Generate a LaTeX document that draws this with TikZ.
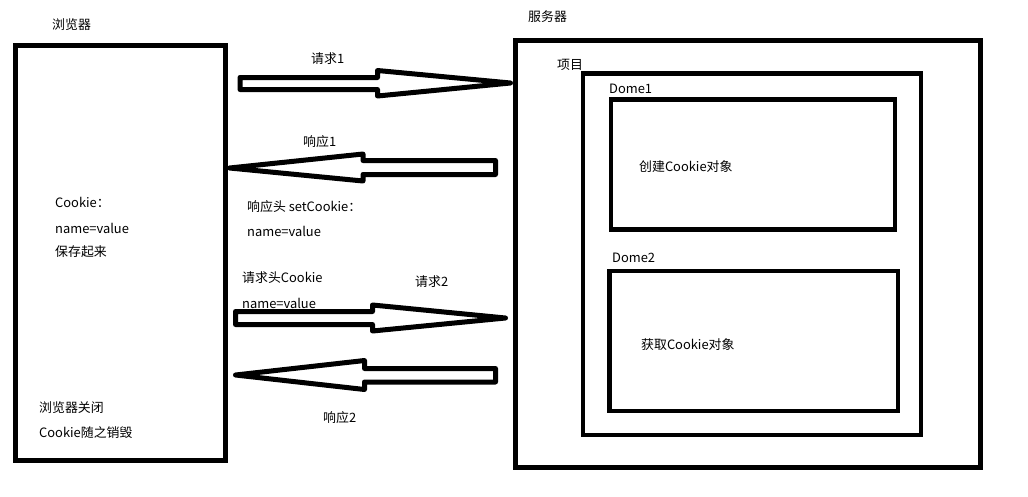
\documentclass[tikz,border=0pt]{standalone}
\usepackage{fontspec}
\newfontfamily\cjk{Noto Sans CJK SC}
\usetikzlibrary{positioning}

\begin{document}
\begin{tikzpicture}[x=1pt,y=-1pt,
every node/.style={font=\cjk\fontsize{12.9}{15}\selectfont,inner sep=0pt},
outbox/.style={draw,rectangle,line width=5pt},
inbox/.style={draw,rectangle,line width=4.5pt},
txt/.style={anchor=west},
fatarrow/.style={draw,line width=5pt,line join=round}]
\useasboundingbox (0,0) rectangle (1028,496);
% boxes
\node[outbox,minimum width=210pt,minimum height=414.5pt] (browser) at (120,252.75) {};
\node[outbox,minimum width=465pt,minimum height=426.5pt] (server) at (747.5,253.75) {};
\node[inbox,minimum width=338pt,minimum height=361.5pt] (project) at (752,254.25) {};
\node[inbox,minimum width=284pt,minimum height=130pt] (dome1) at (753,164.5) {};
\node[inbox,minimum width=288.5pt,minimum height=140pt] (dome2) at (753.75,341) {};
% titles
\node[txt] (tbrowser) at (52,25) {浏览器};
\node[txt] (tserver) at (528,17) {服务器};
\node[txt] (tproject) at (557,65) {项目};
\node[txt] (tdome1) at (609,89) {Dome1};
\node[txt] (tdome2) at (612,258) {Dome2};
\node[txt] (create) at (639,167) {创建Cookie对象};
\node[txt] (fetch) at (641,345) {获取Cookie对象};
% browser texts
\node[txt] (ck1) at (55,202) {Cookie：};
\node[txt] (ck2) at (55,228) {name=value};
\node[txt] (ck3) at (55,252) {保存起来};
\node[txt] (cl1) at (39,408) {浏览器关闭};
\node[txt] (cl2) at (39,433) {Cookie随之销毁};
% arrow labels
\node[txt] (req1) at (311,59) {请求1};
\node[txt] (resp1) at (303,142) {响应1};
\node[txt] (hd1) at (247,207) {响应头 setCookie：};
\node[txt] (hd2) at (247,231) {name=value};
\node[txt] (hd3) at (242,278) {请求头Cookie};
\node[txt] (hd4) at (242,303) {name=value};
\node[txt] (req2) at (415,282) {请求2};
\node[txt] (resp2) at (323,418) {响应2};
% block arrows
\draw[fatarrow] (240,77.5) -- (377.5,77.5) -- (377.5,70.5) -- (510.5,83)
  -- (377.5,96) -- (377.5,89.5) -- (240,89.5) -- cycle;
\draw[fatarrow] (495.5,160.5) -- (363,160.5) -- (363,154) -- (229.5,168)
  -- (363,181) -- (363,174.5) -- (495.5,174.5) -- cycle;
\draw[fatarrow] (235.5,311.5) -- (372.5,311.5) -- (372.5,305) -- (505.5,318)
  -- (372.5,331) -- (372.5,324.5) -- (235.5,324.5) -- cycle;
\draw[fatarrow] (495.5,368.5) -- (364.5,368.5) -- (364.5,360.5) -- (235.5,375)
  -- (364.5,389.5) -- (364.5,382) -- (495.5,382) -- cycle;
\end{tikzpicture}
\end{document}
